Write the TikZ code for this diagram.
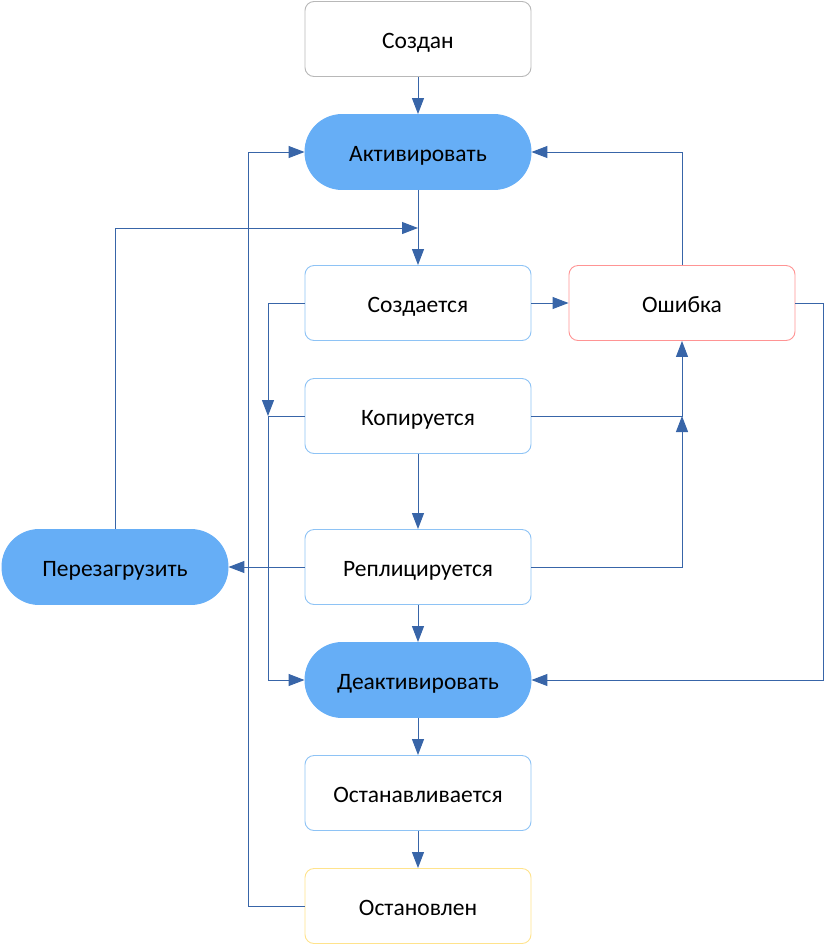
\documentclass[tikz,border=0pt]{standalone}
\usepackage{fontspec}
\setmainfont{Carlito}
\usetikzlibrary{arrows.meta}
\definecolor{actblue}{HTML}{66AEF6}
\definecolor{lineblue}{HTML}{3865A8}
\definecolor{boxblue}{HTML}{8EC3F5}
\definecolor{boxgrey}{HTML}{B8B8B8}
\definecolor{boxred}{HTML}{FF9494}
\definecolor{boxyellow}{HTML}{FFE38C}
\begin{document}
\begin{tikzpicture}[x=1pt,y=-1pt,
  box/.style={draw=boxblue, rounded corners=9pt, minimum width=226pt, minimum height=75pt,
    inner sep=0pt, line width=0.9pt, text height=20pt, text depth=1pt,
    font=\fontsize{23.5}{26}\selectfont},
  stadium/.style={box, fill=actblue, draw=actblue, rounded corners=37pt},
  conn/.style={draw=lineblue, line width=1pt, -{Triangle[length=16pt,width=12pt]}}]
\useasboundingbox (0,0) rectangle (825,946);
\node[box, draw=boxgrey] (sozdan) at (418,39) {Создан};
\node[stadium] (aktiv) at (418,152) {Активировать};
\node[box] (sozd) at (418,303) {Создается};
\node[box, draw=boxred] (osh) at (682,303) {Ошибка};
\node[box] (kop) at (418,416) {Копируется};
\node[box] (repl) at (418,567) {Реплицируется};
\node[stadium] (perez) at (115,567) {Перезагрузить};
\node[stadium] (deakt) at (418,680) {Деактивировать};
\node[box] (ostv) at (418,793) {Останавливается};
\node[box, draw=boxyellow] (ostn) at (418,906) {Остановлен};
\coordinate (j1) at (418,228);
\coordinate (k1) at (268,416);
\coordinate (e1) at (682,416);
\draw[conn] (sozdan) -- (aktiv);
\draw[conn] (aktiv) -- (sozd);
\draw[conn] (perez.north) |- (j1);
\draw[conn] (ostn.west) -- ++(-56,0) |- (aktiv.west);
\draw[conn] (sozd.west) -| (k1);
\draw[conn] (kop.west) -- (k1) |- (deakt.west);
\draw[conn] (sozd) -- (osh);
\draw[conn] (kop.east) -| (osh.south);
\draw[conn] (repl.east) -| (e1);
\draw[conn] (osh.east) -- ++(28,0) |- (deakt.east);
\draw[conn] (osh.north) |- (aktiv.east);
\draw[conn] (repl) -- (perez);
\draw[conn] (kop) -- (repl);
\draw[conn] (repl) -- (deakt);
\draw[conn] (deakt) -- (ostv);
\draw[conn] (ostv) -- (ostn);
\end{tikzpicture}
\end{document}
